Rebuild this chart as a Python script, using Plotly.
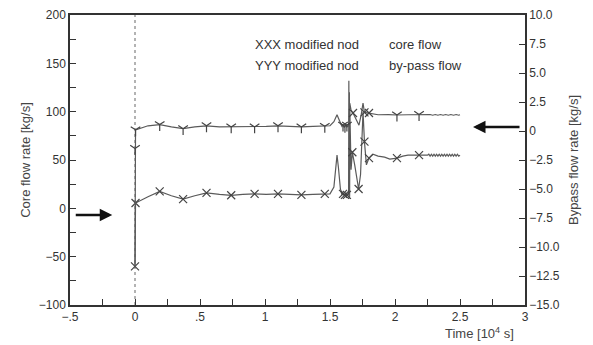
import plotly.graph_objects as go

# ---------------- data ----------------
# Core flow (XXX modified nod) -- left axis [kg/s]; time in 10^4 s
core_t = [0.0, 0.004, 0.10, 0.19, 0.28, 0.37, 0.46, 0.55, 0.65, 0.74, 0.83, 0.92, 1.01, 1.10,
          1.19, 1.28, 1.37, 1.46, 1.50, 1.53, 1.545, 1.554, 1.565, 1.58, 1.592, 1.60, 1.61,
          1.62, 1.63, 1.638, 1.643, 1.645, 1.647, 1.649, 1.651, 1.653, 1.662, 1.672, 1.69,
          1.70, 1.72, 1.735, 1.748,
          1.754, 1.765, 1.78, 1.80, 1.83, 1.87, 1.92, 1.96, 2.015, 2.06, 2.10, 2.185, 2.25,
          2.26, 2.27, 2.28, 2.29, 2.30, 2.31, 2.32, 2.33, 2.34, 2.35, 2.36, 2.37, 2.38, 2.39,
          2.40, 2.41, 2.42, 2.43, 2.44, 2.45, 2.46, 2.47, 2.48, 2.49, 2.50]
core_v = [-60, 5.5, 12, 17.5, 13, 9.5, 13, 16, 14.5, 13.5, 14.5, 15, 14.5, 15,
          14.5, 14, 14.5, 15, 15, 22, 45, 55, 42, 20, 14, 15, 13,
          16, 13, 15, 14, 132, 10, 120, 12, 100, 40, 58, 45,
          35, 20, 35, 80,
          100, 69, 45, 52, 56, 54, 53, 51, 52, 54, 55, 55, 55,
          56, 54, 56, 54, 56, 54, 56, 54, 56, 54, 56, 54, 56, 54,
          56, 54, 56, 54, 56, 54, 56, 54, 56, 54, 55]

# By-pass flow (YYY modified nod) -- right axis [kg/s]
bypass_t = [0.0, 0.001, 0.004, 0.10, 0.19, 0.28, 0.37, 0.46, 0.55, 0.65, 0.74, 0.83, 0.92,
            1.01, 1.10, 1.19, 1.28, 1.37, 1.46, 1.50, 1.53, 1.545, 1.554, 1.565, 1.58, 1.592,
            1.60, 1.61, 1.62, 1.63, 1.638, 1.645, 1.652, 1.662, 1.677, 1.70, 1.723, 1.74,
            1.754, 1.765, 1.79, 1.82, 1.87, 1.95, 2.015, 2.10, 2.185, 2.25,
            2.27, 2.29, 2.31, 2.33, 2.35, 2.37, 2.39, 2.41, 2.43, 2.45, 2.47, 2.49, 2.50]
bypass_v = [-11.8, -1.5, 0.1, 0.45, 0.55, 0.35, 0.2, 0.35, 0.45, 0.35, 0.35, 0.4, 0.35,
            0.4, 0.45, 0.4, 0.35, 0.4, 0.4, 0.45, 0.8, 1.2, 1.4, 1.1, 0.6, 0.4,
            0.5, 0.3, 0.55, 0.35, 0.45, 0.4, 2.4, 1.8, 1.55, 1.0, 0.5, 1.4,
            2.4, 1.6, 1.55, 1.5, 1.4, 1.42, 1.38, 1.4, 1.42, 1.38,
            1.42, 1.36, 1.42, 1.36, 1.42, 1.36, 1.42, 1.36, 1.42, 1.36, 1.42, 1.36, 1.4]

# marker points
core_mark_t = [0.0, 0.004, 0.19, 0.37, 0.55, 0.74, 0.92, 1.10, 1.28, 1.46, 1.60, 1.615, 1.63,
               1.672, 1.72, 1.765, 1.80, 2.015, 2.185]
core_mark_v = [-60, 5.5, 17.5, 9.5, 16, 13.5, 15, 15, 14, 15, 15, 14, 14,
               58, 20, 69, 52, 52, 55]

bypass_markY_t = [0.0, 0.004, 0.19, 0.37, 0.55, 0.74, 0.92, 1.10, 1.28, 1.46, 1.60, 1.615, 1.63,
                  2.015, 2.185]
bypass_markY_v = [-1.5, 0.1, 0.55, 0.2, 0.45, 0.35, 0.35, 0.45, 0.35, 0.4, 0.5, 0.4, 0.5,
                  1.38, 1.42]
bypass_markX_t = [1.677, 1.765, 1.80]
bypass_markX_v = [1.55, 1.6, 1.55]

x_tickvals = [-0.5, 0, 0.5, 1, 1.5, 2, 2.5, 3]
x_ticktext = ["\u2212.5", "0", ".5", "1", "1.5", "2", "2.5", "3"]
y_tickvals = [-100, -50, 0, 50, 100, 150, 200]
y_ticktext = ["\u2212100", "\u221250", "0", "50", "100", "150", "200"]
y2_tickvals = [-15, -12.5, -10, -7.5, -5, -2.5, 0, 2.5, 5, 7.5, 10]
y2_ticktext = ["\u221215.0", "\u221212.5", "\u221210.0", "\u22127.5", "\u22125.0", "\u22122.5",
               "0", "2.5", "5.0", "7.5", "10.0"]

legend_left = ["XXX modified nod", "YYY modified nod"]
legend_right = ["core flow", "by-pass flow"]

# ---------------- figure ----------------
FONT = "Liberation Sans, Arial, sans-serif"
LINE = "#5a5a5a"
AX = "#333333"
MK = "#444444"

fig = go.Figure()

fig.add_trace(go.Scatter(x=core_t, y=core_v, mode="lines",
                         line=dict(color=LINE, width=1.2), showlegend=False))
fig.add_trace(go.Scatter(x=bypass_t, y=bypass_v, mode="lines", yaxis="y2",
                         line=dict(color=LINE, width=1.2), showlegend=False))
fig.add_trace(go.Scatter(x=core_mark_t, y=core_mark_v, mode="markers",
                         marker=dict(symbol="x-thin-open", size=8, color=MK,
                                     line=dict(color=MK, width=1.2)),
                         showlegend=False))
fig.add_trace(go.Scatter(x=bypass_markY_t, y=bypass_markY_v, mode="markers", yaxis="y2",
                         marker=dict(symbol="y-down-open", size=8, color=MK,
                                     line=dict(color=MK, width=1.2)),
                         showlegend=False))
fig.add_trace(go.Scatter(x=bypass_markX_t, y=bypass_markX_v, mode="markers", yaxis="y2",
                         marker=dict(symbol="x-thin-open", size=8, color=MK,
                                     line=dict(color=MK, width=1.2)),
                         showlegend=False))

# dashed vertical line at t = 0
fig.add_shape(type="line", x0=0, x1=0, y0=0, y1=1, xref="x", yref="paper",
              line=dict(color="#9a9a9a", width=1.5, dash="dot"), layer="below")

tickfont = dict(family=FONT, size=12, color="#333")
titlefont = dict(family=FONT, size=13, color="#444")

# The page body has a default 8px margin, so the figure is sized to fit the window.
fig.update_layout(
    width=585, height=337,
    margin=dict(l=62, r=68, t=7, b=40),
    paper_bgcolor="white", plot_bgcolor="white",
    font=dict(family=FONT, size=12, color="#333"),
    xaxis=dict(range=[-0.5, 3], tickvals=x_tickvals, ticktext=x_ticktext,
               ticks="inside", ticklen=6, tickwidth=1.3, tickcolor=AX,
               minor=dict(dtick=0.25, ticks="inside", ticklen=6, tickwidth=1.3, tickcolor=AX),
               showline=True, linecolor=AX, linewidth=1.5, mirror=True,
               showgrid=False, zeroline=False, tickfont=tickfont, automargin=False),
    yaxis=dict(range=[-100, 200], tickvals=y_tickvals, ticktext=y_ticktext,
               ticks="inside", ticklen=6, tickwidth=1.3, tickcolor=AX,
               minor=dict(dtick=25, ticks="inside", ticklen=6, tickwidth=1.3, tickcolor=AX),
               showline=True, linecolor=AX, linewidth=1.5,
               showgrid=False, zeroline=False, tickfont=tickfont, automargin=False,
               title=dict(text="Core flow rate [kg/s]", font=titlefont, standoff=5)),
    yaxis2=dict(range=[-15, 10], tickvals=y2_tickvals, ticktext=y2_ticktext,
                overlaying="y", side="right",
                ticks="inside", ticklen=6, tickwidth=1.3, tickcolor=AX,
                showline=True, linecolor=AX, linewidth=1.5,
                showgrid=False, zeroline=False, tickfont=tickfont, automargin=False,
                title=dict(text="Bypass flow rate [kg/s]", font=titlefont, standoff=10)),
)

# x-axis title
fig.add_annotation(text="Time [10<sup>4</sup> s]", xref="paper", yref="paper",
                   x=0.9, y=-0.097, xanchor="center", yanchor="middle", showarrow=False,
                   font=titlefont)

# legend text
for i, (a, b) in enumerate(zip(legend_left, legend_right)):
    yy = 0.897 - i * 0.072
    fig.add_annotation(text=a, xref="paper", yref="paper", x=0.402, y=yy,
                       xanchor="left", yanchor="middle", showarrow=False,
                       font=dict(family=FONT, size=13, color="#333"))
    fig.add_annotation(text=b, xref="paper", yref="paper", x=0.697, y=yy,
                       xanchor="left", yanchor="middle", showarrow=False,
                       font=dict(family=FONT, size=13, color="#333"))

# arrows pointing to the curves
fig.add_annotation(x=-0.175, y=-7, xref="x", yref="y", ax=-38, ay=0,
                   showarrow=True, arrowhead=2, arrowsize=1, arrowwidth=2.5,
                   arrowcolor="#111", text="")
fig.add_annotation(x=2.6, y=0.35, xref="x", yref="y2", ax=48, ay=0,
                   showarrow=True, arrowhead=2, arrowsize=1, arrowwidth=2.5,
                   arrowcolor="#111", text="")

fig.write_html("out.html")
